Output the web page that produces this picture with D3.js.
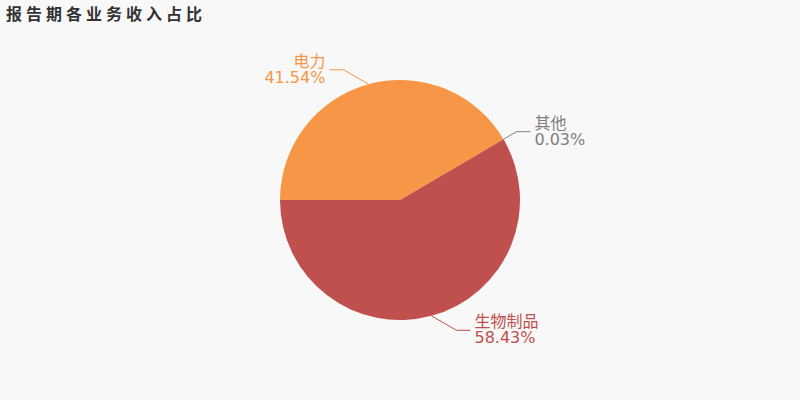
<!DOCTYPE html>
<html><head><meta charset="utf-8">
<script src="https://cdn.jsdelivr.net/npm/d3@7"></script>
<style>body{margin:0;background:#f8f8f8;} svg{display:block;}</style>
</head><body><svg id="c" width="800" height="400"></svg>
<script>
const categories = ["电力", "其他", "生物制品"];
const values = [41.54, 0.03, 58.43];
const labels = ["41.54%", "0.03%", "58.43%"];
const colors = ["#f79646", "#7f7f7f", "#c0504d"];
const textColors = ["#f79646", "#7f7f7f", "#c0504d"];

const svg = d3.select("#c");
svg.append("rect").attr("width", 800).attr("height", 400).attr("fill", "#f8f8f8");
svg.append("text").attr("x", 6).attr("y", 20)
  .attr("font-family", "Noto Sans CJK SC, sans-serif").attr("font-weight", "bold")
  .attr("font-size", 16).attr("letter-spacing", "4px").attr("fill", "#333")
  .text("报告期各业务收入占比");

const cx = 400, cy = 200, R = 120;
const pie = d3.pie().sort(null).value(d => d).startAngle(-Math.PI / 2).endAngle(1.5 * Math.PI);
const arcs = pie(values);
const arc = d3.arc().innerRadius(0).outerRadius(R);
const g = svg.append("g").attr("transform", `translate(${cx},${cy})`);
g.selectAll("path").data(arcs).enter().append("path")
  .attr("d", arc).attr("fill", (d, i) => colors[i]);

const len1 = 15, len2 = 14, maxSlope = Math.tan(Math.PI / 6);
arcs.forEach((d, i) => {
  const a = (d.startAngle + d.endAngle) / 2;
  const p0 = [R * Math.sin(a), -R * Math.cos(a)];
  const right = Math.sin(a) >= 0;
  const r2 = R + len1;
  let p1 = [r2 * Math.sin(a), -r2 * Math.cos(a)];
  const dy = Math.abs(p1[1] - p0[1]);
  const dx = Math.abs(p1[0] - p0[0]);
  if (dy / dx > maxSlope + 0.02) {
    p1 = [p0[0] + (right ? 1 : -1) * dy / maxSlope, p1[1]];
  }
  const p2 = [p1[0] + (right ? len2 : -len2), p1[1]];
  g.append("polyline").attr("points", [p0, p1, p2].map(p => p.join(",")).join(" "))
    .attr("fill", "none").attr("stroke", textColors[i]).attr("stroke-width", 1);
  const tx = p2[0] + (right ? 4 : -4);
  const t = g.append("text").attr("text-anchor", right ? "start" : "end")
    .attr("font-family", "DejaVu Sans, Noto Sans CJK SC, sans-serif")
    .attr("font-size", 16).attr("fill", textColors[i]);
  t.append("tspan").attr("x", tx).attr("y", p2[1] - 3).attr("font-family", "Noto Sans CJK SC, sans-serif").text(categories[i]);
  t.append("tspan").attr("x", tx).attr("y", p2[1] + 13).text(labels[i]);
});
</script></body></html>
